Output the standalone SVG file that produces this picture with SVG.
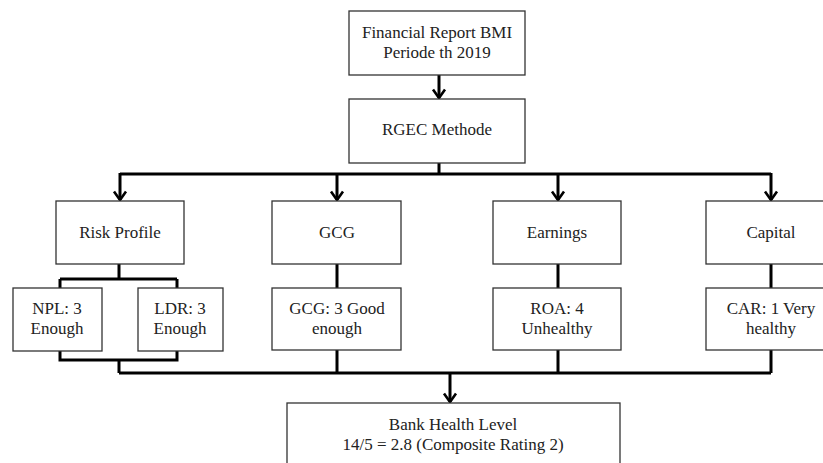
<svg xmlns="http://www.w3.org/2000/svg" width="823" height="463" viewBox="0 0 823 463">
<style>
.box{fill:#fff;stroke:#333;stroke-width:1.3}
text{font-family:'Liberation Serif','Times New Roman','DejaVu Serif',serif;font-size:17px;fill:#222;text-anchor:middle}
.c{fill:none;stroke:#000;stroke-width:3}
.a{fill:none;stroke:#000;stroke-width:3;marker-end:url(#ah)}
</style>
<defs>
<marker id="ah" markerUnits="userSpaceOnUse" viewBox="-10 -8 12 16" refX="0" refY="0" markerWidth="12" markerHeight="16" orient="auto" overflow="visible">
<path d="M-8.5,-6 L0,0 L-8.5,6" fill="none" stroke="#000" stroke-width="2.6"/>
</marker>
</defs>
<rect width="823" height="463" fill="#fff"/>
<g id="connectors">
<path class="a" d="M439,75 V98"/>
<path class="c" d="M439,163 V174 M120,174 H771"/>
<path class="a" d="M120,173 V200"/>
<path class="a" d="M337,173 V200"/>
<path class="a" d="M558,173 V200"/>
<path class="a" d="M771,173 V200"/>
<path class="c" d="M119,264 V279 M60,279 H177 M60,279 V288 M177,279 V288"/>
<path class="c" d="M60,351 V360 H177 V351 M119,360 V373"/>
<path class="c" d="M337,264 V288 M558,264 V288 M771,264 V288"/>
<path class="c" d="M337,350 V373 M558,350 V373 M771,350 V373 M119,373 H771"/>
<path class="a" d="M450,372 V402"/>
</g>
<g font-family="Liberation Serif, serif">
<g id="n-report"><rect class="box" x="349" y="11" width="176" height="64"/><text x="437" y="38">Financial Report BMI</text><text x="437" y="58">Periode th 2019</text></g>
<g id="n-rgec"><rect class="box" x="349" y="99" width="176" height="64"/><text x="437" y="135">RGEC Methode</text></g>
<g id="n-risk"><rect class="box" x="56" y="201" width="128" height="63"/><text x="120" y="238">Risk Profile</text></g>
<g id="n-gcg"><rect class="box" x="272" y="201" width="129" height="63"/><text x="337" y="238">GCG</text></g>
<g id="n-earn"><rect class="box" x="493" y="201" width="128" height="63"/><text x="557" y="238">Earnings</text></g>
<g id="n-cap"><rect class="box" x="706" y="201" width="131" height="63"/><text x="771" y="238">Capital</text></g>
<g id="n-npl"><rect class="box" x="13" y="288" width="89" height="63"/><text x="57" y="314">NPL: 3</text><text x="57" y="334">Enough</text></g>
<g id="n-ldr"><rect class="box" x="138" y="288" width="85" height="63"/><text x="180" y="314">LDR: 3</text><text x="180" y="334">Enough</text></g>
<g id="n-gcgr"><rect class="box" x="272" y="288" width="129" height="62"/><text x="337" y="314">GCG: 3 Good</text><text x="337" y="334">enough</text></g>
<g id="n-roa"><rect class="box" x="493" y="288" width="128" height="62"/><text x="557" y="314">ROA: 4</text><text x="557" y="334">Unhealthy</text></g>
<g id="n-car"><rect class="box" x="706" y="288" width="131" height="62"/><text x="771" y="314">CAR: 1 Very</text><text x="771" y="334">healthy</text></g>
<g id="n-bank"><rect class="box" x="287" y="403" width="333" height="70"/><text x="453" y="430">Bank Health Level</text><text x="453" y="450">14/5 = 2.8 (Composite Rating 2)</text></g>
</g>
</svg>
